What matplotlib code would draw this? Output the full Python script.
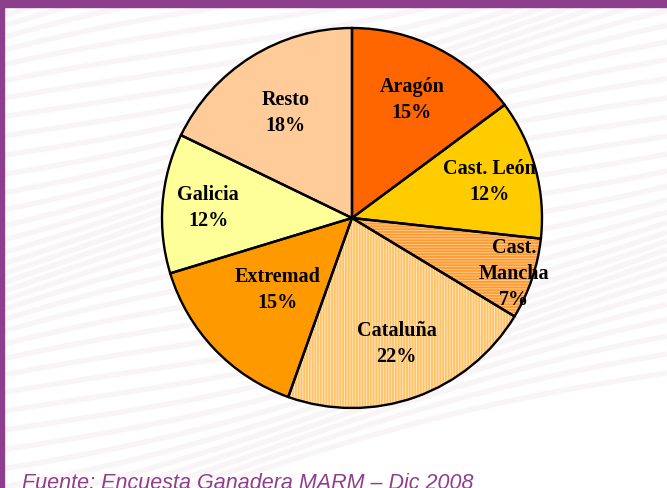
import matplotlib.pyplot as plt
import numpy as np

regiones = ['Aragón', 'Cast. León', 'Cast.\nMancha', 'Cataluña', 'Extremad', 'Galicia', 'Resto']
porcentajes = [15, 12, 7, 22, 15, 12, 18]

colores = ['#FF6600', '#FFCC00', '#FFCC88', '#FFE6BF', '#FF9900', '#FFFF99', '#FFCC99']
tramas = [None, None, '------', '||||||', None, None, None]
color_trama = ['none', 'none', '#FF9933', '#FFC266', 'none', 'none', 'none']
dist_etiqueta = [0.70, 0.75, 0.90, 0.70, 0.54, 0.76, 0.66]

morado = '#8E3F8C'
W, H = 667, 489
fig = plt.figure(figsize=(W / 100, H / 100), dpi=100)
fig.patch.set_facecolor('white')

# fondo con ondas suaves
bg = fig.add_axes([0, 0, 1, 1])
bg.set_xlim(0, W)
bg.set_ylim(H, 0)
bg.axis('off')
xs = np.linspace(0, W, 300)
for k in range(-10, 40):
    y0 = k * 14
    ys = y0 - 0.25 * xs - 18 * np.sin(xs / 180 + k * 0.3)
    bg.plot(xs, ys, color='#E6D3DC', lw=4, alpha=0.22, solid_capstyle='butt')
bg.add_patch(plt.Rectangle((0, 0), W, 8, color=morado, zorder=5))
bg.add_patch(plt.Rectangle((0, 0), 4, H, color=morado, zorder=5))

# tarta
cx, cy, r = 352, 219, 190
pad = 1.04
ax = fig.add_axes([(cx - r * pad) / W, (H - cy - r * pad) / H, 2 * r * pad / W, 2 * r * pad / H])
plt.rcParams['hatch.linewidth'] = 1.3
wedges, _ = ax.pie(porcentajes, colors=colores, startangle=90, counterclock=False,
                   wedgeprops=dict(linewidth=0))
for w, h, hc in zip(wedges, tramas, color_trama):
    if h:
        w.set_hatch(h)
        w.set_edgecolor(hc)
outline, _ = ax.pie(porcentajes, colors=['none'] * len(porcentajes), startangle=90,
                    counterclock=False, wedgeprops=dict(linewidth=1.7, edgecolor='black'))
ax.set_xlim(-pad, pad)
ax.set_ylim(-pad, pad)
ax.set_aspect('equal')

for w, nombre, p, d in zip(wedges, regiones, porcentajes, dist_etiqueta):
    ang = np.deg2rad((w.theta1 + w.theta2) / 2)
    ax.text(d * np.cos(ang), d * np.sin(ang), f'{nombre}\n{p}%', ha='center', va='center',
            family='Liberation Serif', fontweight='bold', fontsize=14.5, linespacing=1.4)

fig.text(22 / W, 1 - 489 / H, 'Fuente: Encuesta Ganadera MARM – Dic 2008', color=morado,
         family='Liberation Sans', style='italic', fontsize=15.5, va='baseline')

fig.savefig('out.png', dpi=100)
